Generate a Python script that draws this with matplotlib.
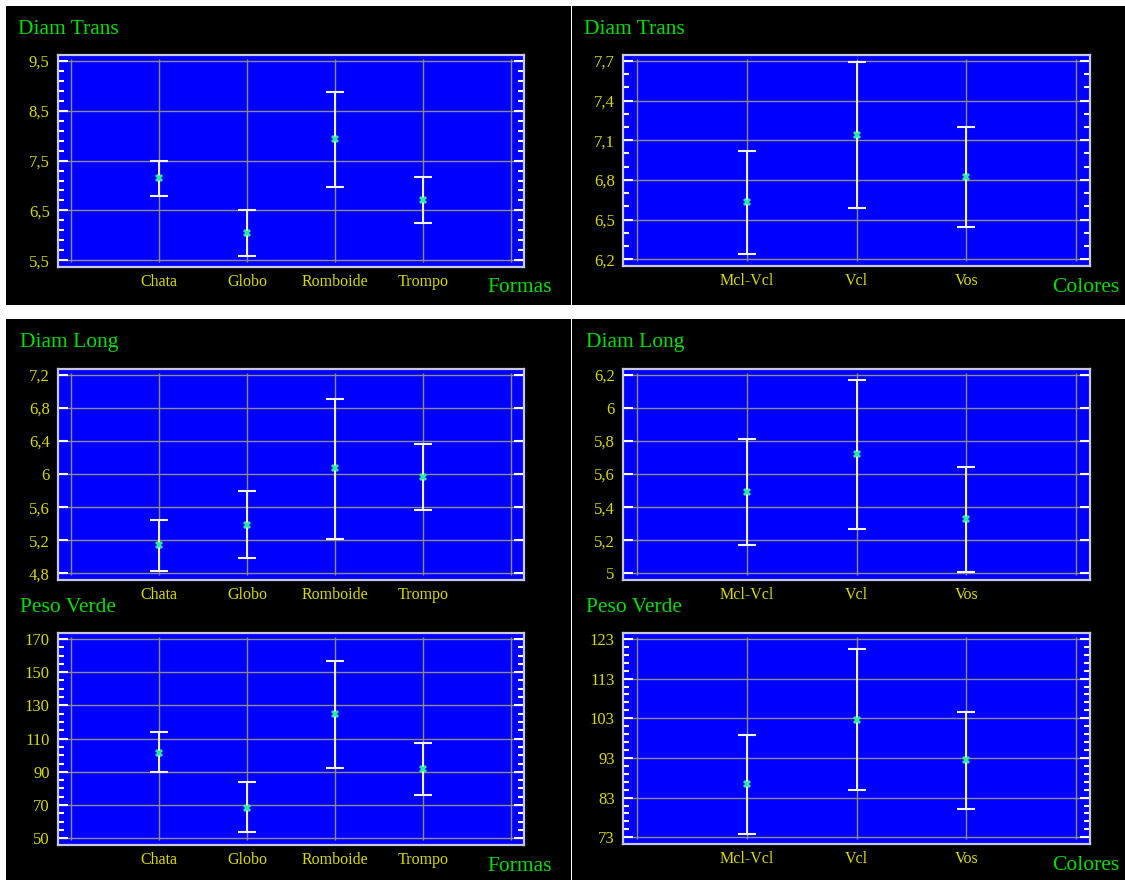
import matplotlib
matplotlib.use("Agg")
import numpy as np
import matplotlib.pyplot as plt
from matplotlib.patches import Rectangle
from matplotlib.ticker import FixedLocator, FuncFormatter, NullLocator

# ---- data: means with lower / upper interval limits ----
formas = ["Chata", "Globo", "Romboide", "Trompo"]
colores = ["Mcl-Vcl", "Vcl", "Vos"]

dt_formas_mean = [7.15, 6.04, 7.93, 6.71]
dt_formas_low = [6.79, 5.58, 6.96, 6.25]
dt_formas_high = [7.50, 6.50, 8.88, 7.18]

dt_colores_mean = [6.63, 7.14, 6.82]
dt_colores_low = [6.24, 6.59, 6.445]
dt_colores_high = [7.02, 7.69, 7.20]

dl_formas_mean = [5.14, 5.39, 6.07, 5.96]
dl_formas_low = [4.83, 4.98, 5.22, 5.56]
dl_formas_high = [5.45, 5.79, 6.91, 6.37]

dl_colores_mean = [5.49, 5.72, 5.33]
dl_colores_low = [5.17, 5.27, 5.01]
dl_colores_high = [5.81, 6.17, 5.64]

pv_formas_mean = [101.5, 68.4, 125.0, 91.5]
pv_formas_low = [89.9, 53.6, 92.5, 76.2]
pv_formas_high = [113.8, 84.1, 157.0, 107.3]

pv_colores_mean = [86.5, 102.6, 92.4]
pv_colores_low = [73.8, 84.9, 80.1]
pv_colores_high = [98.9, 120.4, 104.7]

# y-axis ranges: (first tick, last tick, major step, minor step)
dt_formas_ticks = (5.5, 9.5, 1.0, 0.2)
dt_colores_ticks = (6.2, 7.7, 0.3, 0.1)
dl_formas_ticks = (4.8, 7.2, 0.4, None)
dl_colores_ticks = (5.0, 6.2, 0.2, None)
pv_formas_ticks = (50, 170, 20, 5)
pv_colores_ticks = (73, 123, 10, 2)

W, H = 1125, 880
fig = plt.figure(figsize=(W / 100, H / 100), dpi=100, facecolor="white")

SERIF = ["Liberation Serif", "DejaVu Serif"]
GREEN = "#00dd00"
YELLOW = "#d8d800"
BLUE = "#0000ff"
GRID = "#8c8c8c"
MARK = "#2ee8a0"


def px_rect(x0, y0, x1, y1):
    """Figure-fraction rectangle from pixel edges (origin top-left)."""
    return [x0 / W, 1 - y1 / H, (x1 - x0) / W, (y1 - y0) / H]


# black panels
for x0, y0, x1, y1 in [(6, 6, 571, 305), (572, 6, W, 305),
                       (6, 319, 571, H), (572, 319, W, H)]:
    fig.add_artist(Rectangle((x0 / W, 1 - y1 / H), (x1 - x0) / W, (y1 - y0) / H,
                             transform=fig.transFigure, facecolor="black",
                             edgecolor="none", zorder=0))


def fmt(v, _pos=None):
    s = f"{round(v, 4):g}"
    return s.replace(".", ",")


def panel(rect, cats, mean, low, high, ticks, title, title_xy,
          xlabel=None, xlabel_xy=None):
    ax = fig.add_axes(px_rect(*rect))
    ax.set_facecolor(BLUE)
    n = len(cats)
    lo_t, hi_t, major, minor = ticks
    rng = hi_t - lo_t
    ax.set_ylim(lo_t - 0.034 * rng, hi_t + 0.03 * rng)
    gap = 0.15 if n == 4 else 0.127
    ax.set_xlim(-gap, n + 1 + gap)

    majors = np.round(np.arange(lo_t, hi_t + major / 2, major), 6)
    ax.yaxis.set_major_locator(FixedLocator(majors))
    ax.yaxis.set_major_formatter(FuncFormatter(fmt))
    if minor:
        minors = np.round(np.arange(lo_t, hi_t + minor / 2, minor), 6)
        minors = [m for m in minors
                  if np.min(np.abs(majors - m)) > minor / 10]
        ax.yaxis.set_minor_locator(FixedLocator(minors))
    else:
        ax.yaxis.set_minor_locator(NullLocator())
    ax.tick_params(axis="y", which="both", direction="in", left=True,
                   right=True, colors="white", width=1.5, labelcolor=YELLOW,
                   labelsize=12, pad=6)
    ax.tick_params(axis="y", which="major", length=7)
    ax.tick_params(axis="y", which="minor", length=4)
    for lab in ax.get_yticklabels():
        lab.set_fontfamily(SERIF)

    xs = list(range(1, n + 1))
    ax.set_xticks(xs)
    ax.set_xticklabels(cats, fontfamily=SERIF, fontsize=11.5, color=YELLOW)
    ax.tick_params(axis="x", length=0, pad=5)

    ax.set_axisbelow(True)
    ax.grid(axis="y", which="major", color=GRID, lw=1)
    ax.vlines(range(0, n + 2), 0.025, 0.98, transform=ax.get_xaxis_transform(),
              color=GRID, lw=1, zorder=1)

    for sp in ax.spines.values():
        sp.set_color("#c8c8e4")
        sp.set_linewidth(1.6)

    yerr = [[m - l for m, l in zip(mean, low)], [h - m for h, m in zip(high, mean)]]
    ax.errorbar(xs, mean, yerr=yerr, fmt="none", ecolor="#f4f4ff",
                elinewidth=1.4, capsize=6.5, capthick=1.5, zorder=3)
    ax.plot(xs, mean, linestyle="none", marker="X", markersize=6,
            color=MARK, markeredgewidth=0, zorder=4)

    fig.text(title_xy[0] / W, 1 - title_xy[1] / H, title, color=GREEN,
             fontfamily=SERIF, fontsize=15.5, ha="left", va="center")
    if xlabel:
        fig.text(xlabel_xy[0] / W, 1 - xlabel_xy[1] / H, xlabel, color=GREEN,
                 fontfamily=SERIF, fontsize=15.5, ha="left", va="center")
    return ax


panel((58, 55, 524, 267), formas, dt_formas_mean, dt_formas_low,
      dt_formas_high, dt_formas_ticks, "Diam Trans", (18, 29),
      "Formas", (487, 287))
panel((623, 55, 1090, 266), colores, dt_colores_mean, dt_colores_low,
      dt_colores_high, dt_colores_ticks, "Diam Trans", (584, 29),
      "Colores", (1052, 287))
panel((58, 369, 524, 580), formas, dl_formas_mean, dl_formas_low,
      dl_formas_high, dl_formas_ticks, "Diam Long", (20, 343))
panel((623, 369, 1090, 580), colores, dl_colores_mean, dl_colores_low,
      dl_colores_high, dl_colores_ticks, "Diam Long", (586, 343))
panel((58, 633, 524, 845), formas, pv_formas_mean, pv_formas_low,
      pv_formas_high, pv_formas_ticks, "Peso Verde", (20, 607),
      "Formas", (487, 866))
panel((623, 633, 1090, 844), colores, pv_colores_mean, pv_colores_low,
      pv_colores_high, pv_colores_ticks, "Peso Verde", (586, 607),
      "Colores", (1052, 865))

fig.savefig("out.png", dpi=100, facecolor="white")
